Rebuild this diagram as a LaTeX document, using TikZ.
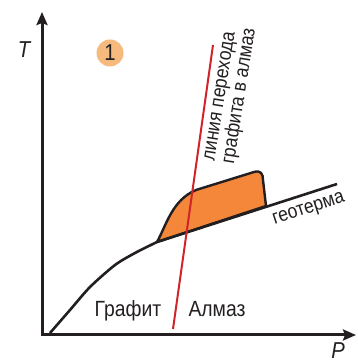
\documentclass[tikz,border=0pt]{standalone}
\usepackage{fontspec}
\setmainfont{Liberation Sans}[FakeStretch=0.88]
\usepackage{tikz}
\usetikzlibrary{arrows.meta,positioning}
\usepackage{xcolor}
\definecolor{cink}{HTML}{231F20}
\definecolor{cred}{HTML}{D1232A}
\definecolor{corange}{HTML}{F4873A}
\definecolor{cpeach}{HTML}{F6BA7E}

\begin{document}
\begin{tikzpicture}[x=1pt, y=1pt,
    lbl/.style={font=\fontsize{22}{24}\selectfont, text=cink, inner sep=0pt},
    note/.style={font=\fontsize{20}{18.5}\selectfont, text=cink, inner sep=0pt, align=left},
    axis/.style={draw=cink, line width=3pt,
      {Stealth[length=13pt, width=11pt, inset=2pt]}-{Stealth[length=13pt, width=11pt, inset=2pt]}},
    curve/.style={draw=cink, line width=2.6pt, line join=round}]
  \useasboundingbox (0,0) rectangle (357,363);

  % axes
  \coordinate (O) at (42,28);
  \coordinate (Ttip) at (42,351);
  \coordinate (Ptip) at (356,28);
  \draw[axis] (Ttip) -- (O) -- (Ptip);
  \node[lbl, font=\fontsize{23}{24}\selectfont\itshape] (T) at (24,313) {T};
  \node[lbl, font=\fontsize{23}{24}\selectfont\itshape] (P) at (338,12) {P};

  % diamond stability field
  \filldraw[fill=corange, draw=cink, line width=2.4pt, line join=round]
    (157,121) .. controls (166,137) and (172,163) .. (196,173)
    -- (254,191) .. controls (261,193) and (263,189) .. (263,183)
    -- (266,157) -- cycle;

  % geotherm
  \draw[curve] plot[smooth, tension=0.45] coordinates {(50,30) (70,53) (90,76) (115,98) (135,110) (157,121)}
    -- (337,179);

  % transition line
  \coordinate (rbot) at (173,34);
  \coordinate (rtop) at (213,318);
  \draw[cred, line width=2pt] (rbot) -- (rtop);

  % labels
  \node[circle, fill=cpeach, minimum size=27pt, inner sep=0pt,
        font=\fontsize{23}{24}\selectfont, text=cink] (num) at (110,310) {1};
  \node[note, rotate=81] (trans) at (231.5,268) {линия перехода\\графита в алмаз};
  \node[note, rotate=18] (geo) at (309,153) {геотерма};
  \node[lbl, anchor=base] (graf) at (128,46) {Графит};
  \node[lbl, anchor=base] (alm) at (217,46) {Алмаз};
\end{tikzpicture}
\end{document}
